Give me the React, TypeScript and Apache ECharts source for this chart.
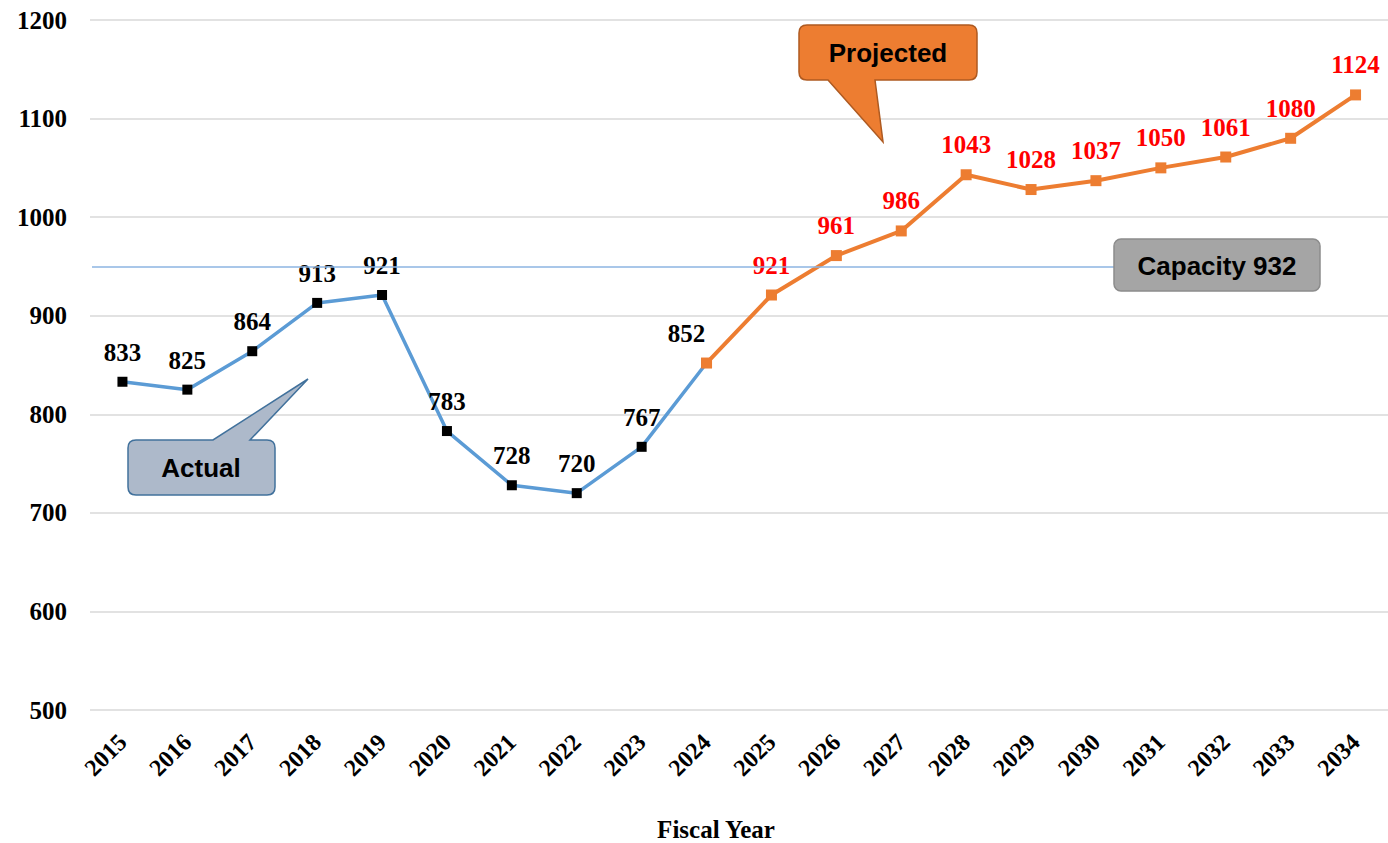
import React, { useEffect, useRef } from "react";
import * as echarts from "echarts";

const years = ["2015", "2016", "2017", "2018", "2019", "2020", "2021", "2022", "2023", "2024", "2025", "2026", "2027", "2028", "2029", "2030", "2031", "2032", "2033", "2034"];
const actualValues: (number | null)[] = [833, 825, 864, 913, 921, 783, 728, 720, 767, 852, null, null, null, null, null, null, null, null, null, null];
const projectedValues: (number | null)[] = [null, null, null, null, null, null, null, null, null, 852, 921, 961, 986, 1043, 1028, 1037, 1050, 1061, 1080, 1124];
const capacityLineValue = 950;
const capacityText = "Capacity 932";
const xAxisTitle = "Fiscal Year";
const yTicks = { min: 500, max: 1200, interval: 100 };

const actualCalloutPath =
  "M136,440 L213,440 L308,379 L250,440 L267,440 Q275,440 275,448 L275,487 Q275,495 267,495 L136,495 Q128,495 128,487 L128,448 Q128,440 136,440 Z";
const projectedCalloutPath =
  "M807,25 L969,25 Q977,25 977,33 L977,72 Q977,80 969,80 L875,80 L883,142 L828,80 L807,80 Q799,80 799,72 L799,33 Q799,25 807,25 Z";

echarts.graphic.registerShape("actualCallout", echarts.graphic.extendPath(actualCalloutPath, {}));
echarts.graphic.registerShape("projectedCallout", echarts.graphic.extendPath(projectedCalloutPath, {}));

const serif = "'Liberation Serif', 'Times New Roman', serif";
const sans = "'Liberation Sans', Arial, sans-serif";

export default function App() {
  const ref = useRef<HTMLDivElement>(null);
  useEffect(() => {
    if (!ref.current) return;
    const chart = echarts.init(ref.current, null, { renderer: "svg" });
    const labelBase = {
      show: true,
      position: "top",
      distance: 12,
      fontFamily: serif,
      fontWeight: "bold",
      fontSize: 25,
    };
    chart.setOption({
      animation: false,
      backgroundColor: "#ffffff",
      grid: { left: 90, right: 0, top: 20, bottom: 133, containLabel: false, outerBoundsMode: "none" },
      xAxis: {
        type: "category",
        data: years,
        boundaryGap: true,
        axisLine: { show: false },
        axisTick: { show: false },
        axisLabel: {
          rotate: 45,
          margin: 28,
          color: "#000",
          fontFamily: serif,
          fontWeight: "bold",
          fontSize: 24,
          interval: 0,
        },
      },
      yAxis: {
        type: "value",
        min: yTicks.min,
        max: yTicks.max,
        interval: yTicks.interval,
        axisLine: { show: false },
        axisTick: { show: false },
        axisLabel: {
          color: "#000",
          fontFamily: serif,
          fontWeight: "bold",
          fontSize: 25,
          margin: 23,
          formatter: (v: number) => String(v),
        },
        splitLine: { lineStyle: { color: "#d9d9d9", width: 1.5 } },
      },
      series: [
        {
          name: "Projected",
          type: "line",
          data: projectedValues.map((v, i) =>
            i === 9 ? { value: v, label: { show: false } } : v
          ),
          connectNulls: false,
          symbol: "rect",
          symbolSize: 11,
          lineStyle: { color: "#ed7d31", width: 4 },
          itemStyle: { color: "#ed7d31" },
          label: { ...labelBase, color: "#ff0000" },
          z: 3,
        },
        {
          name: "Actual",
          type: "line",
          data: actualValues.map((v, i) =>
            i === 9 ? { value: v, label: { offset: [-20, 0] } } : v
          ),
          symbol: "rect",
          symbolSize: 10,
          lineStyle: { color: "#5b9bd5", width: 3.5 },
          itemStyle: { color: "#000000" },
          label: { ...labelBase, color: "#000000" },
          z: 2,
          markLine: {
            silent: true,
            symbol: "none",
            label: { show: false },
            lineStyle: { color: "#8db4e2", width: 1.5, type: "solid" },
            data: [[{ x: 92, yAxis: capacityLineValue }, { x: 1115, yAxis: capacityLineValue }]],
          },
        },
      ],
      graphic: [
        {
          type: "actualCallout",
          x: 0,
          y: 0,
          z: 100,
          style: { fill: "#adb9ca", stroke: "#41719c", lineWidth: 1.5 },
        },
        {
          type: "text",
          x: 201,
          y: 468,
          z: 101,
          style: { text: "Actual", fill: "#000", font: `bold 26px ${sans}`, align: "center", verticalAlign: "middle" },
        },
        {
          type: "projectedCallout",
          x: 0,
          y: 0,
          z: 100,
          style: { fill: "#ed7d31", stroke: "#ae5a21", lineWidth: 1.5 },
        },
        {
          type: "text",
          x: 888,
          y: 53,
          z: 101,
          style: { text: "Projected", fill: "#000", font: `bold 26px ${sans}`, align: "center", verticalAlign: "middle" },
        },
        {
          type: "rect",
          z: 100,
          shape: { x: 1114, y: 239, width: 206, height: 52, r: 7 },
          style: { fill: "#a5a5a5", stroke: "#8c8c8c", lineWidth: 1.5 },
        },
        {
          type: "text",
          x: 1217,
          y: 266,
          z: 101,
          style: { text: capacityText, fill: "#000", font: `bold 26px ${sans}`, align: "center", verticalAlign: "middle" },
        },
        {
          type: "text",
          x: 716,
          y: 829,
          z: 101,
          style: { text: xAxisTitle, fill: "#000", font: `bold 25px ${serif}`, align: "center", verticalAlign: "middle" },
        },
      ],
    });
    return () => chart.dispose();
  }, []);
  return (
    <div
      ref={ref}
      style={{ position: "absolute", left: 0, top: 0, width: 1388, height: 843, background: "#fff" }}
    />
  );
}
